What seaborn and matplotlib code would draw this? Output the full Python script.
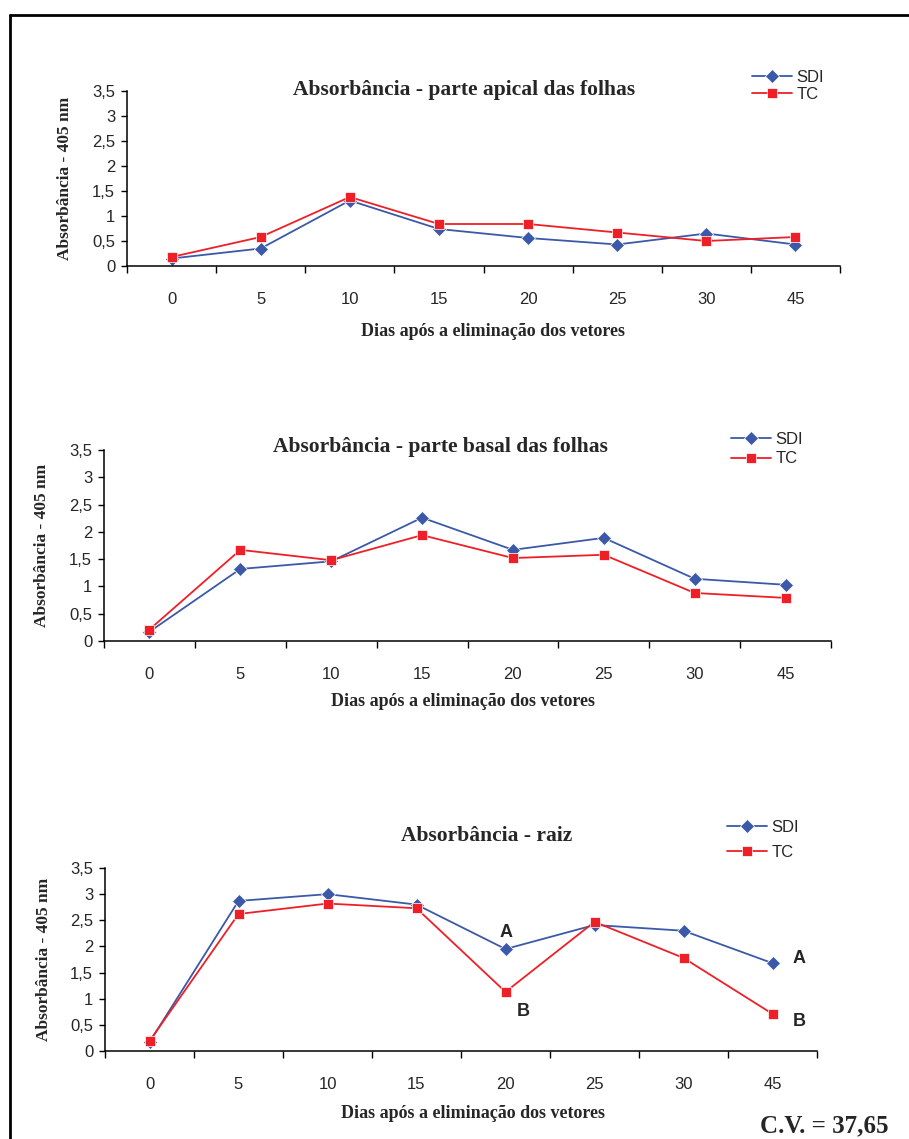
import numpy as np
import pandas as pd
import seaborn as sns
import matplotlib.pyplot as plt
from matplotlib.lines import Line2D

# dados
dias = ['0', '5', '10', '15', '20', '25', '30', '45']
apical_sdi = [0.15, 0.35, 1.31, 0.74, 0.56, 0.43, 0.65, 0.43]
apical_tc = [0.18, 0.58, 1.38, 0.84, 0.84, 0.67, 0.50, 0.58]
basal_sdi = [0.17, 1.32, 1.46, 2.26, 1.67, 1.89, 1.14, 1.03]
basal_tc = [0.21, 1.67, 1.48, 1.94, 1.52, 1.58, 0.88, 0.79]
raiz_sdi = [0.17, 2.87, 3.00, 2.80, 1.95, 2.41, 2.30, 1.68]
raiz_tc = [0.19, 2.62, 2.82, 2.73, 1.13, 2.47, 1.78, 0.71]
yticks = [0, 0.5, 1, 1.5, 2, 2.5, 3, 3.5]
ytick_labels = ['0', '0,5', '1', '1,5', '2', '2,5', '3', '3,5']
titulos = ['Absorbância - parte apical das folhas',
           'Absorbância - parte basal das folhas',
           'Absorbância - raiz']
series = ['SDI', 'TC']
cores = {'SDI': '#3b59a8', 'TC': '#ee1f26'}
marcadores = {'SDI': 'D', 'TC': 's'}

W, H = 909, 1139
def fx(x): return x / W
def fy(y): return 1 - y / H

sns.set_theme(style='white')
plt.rcParams['font.family'] = ['Liberation Sans', 'DejaVu Sans']

fig = plt.figure(figsize=(W / 100, H / 100), dpi=100)
fig.patch.set_facecolor('white')

# caixa dos eixos em pixels (esq, topo, dir, base), posicoes de titulo, legenda etc.
layout = [
    dict(box=(127, 91, 840, 266), title=(464, 90), leg=(752, 86, 0.12), xl=(493, 331), yl=65),
    dict(box=(104, 450, 831, 641), title=(440, 447), leg=(731, 449, 0.28), xl=(463, 701), yl=42),
    dict(box=(105, 868, 817, 1051), title=(487, 836), leg=(727, 840, 0.62), xl=(473, 1113), yl=44),
]
dados = [(apical_sdi, apical_tc), (basal_sdi, basal_tc), (raiz_sdi, raiz_tc)]

eixos = []
for i, (cfg, (sdi, tc)) in enumerate(zip(layout, dados)):
    l, t, r, b = cfg['box']
    ax = fig.add_axes([fx(l), fy(b), (r - l) / W, (b - t) / H])
    df = pd.DataFrame({
        'pos': list(range(len(dias))) * 2,
        'valor': sdi + tc,
        'serie': ['SDI'] * len(dias) + ['TC'] * len(dias),
    })
    sns.lineplot(data=df, x='pos', y='valor', hue='serie', style='serie',
                 hue_order=series, palette=cores, markers=marcadores, dashes=False,
                 markersize=7, markeredgewidth=0.5, linewidth=1.3, ax=ax)
    ax.set_xlim(-0.5, len(dias) - 0.5)
    ax.set_ylim(0, 3.5)
    ax.set_facecolor('white')
    for s in ['top', 'right']:
        ax.spines[s].set_visible(False)
    for s in ['left', 'bottom']:
        ax.spines[s].set_color('black')
        ax.spines[s].set_linewidth(1.1)

    ax.set_yticks(yticks)
    ax.set_yticklabels(ytick_labels, fontsize=12)
    ax.tick_params(axis='y', direction='out', length=4.5, width=1, color='black',
                   left=True, pad=4)
    # marcas do eixo x entre as categorias, rotulos no centro
    ax.set_xticks(np.arange(-0.5, len(dias), 1.0))
    ax.set_xticklabels([])
    ax.set_xticks(np.arange(len(dias)), minor=True)
    ax.set_xticklabels(dias, minor=True, fontsize=12)
    ax.tick_params(axis='x', which='major', direction='out', length=5, width=1,
                   color='black', bottom=True)
    ax.tick_params(axis='x', which='minor', length=0, pad=19)

    ax.set_xlabel('Dias após a eliminação dos vetores', fontsize=13,
                  fontweight='bold', family='Liberation Serif')
    ax.xaxis.set_label_coords(fx(cfg['xl'][0]), fy(cfg['xl'][1]), transform=fig.transFigure)
    ax.xaxis.label.set_va('center')
    ax.set_ylabel('Absorbância - 405 nm', fontsize=12.5, fontweight='bold',
                  family='Liberation Serif')
    ax.yaxis.set_label_coords(fx(cfg['yl']), fy((t + b) / 2), transform=fig.transFigure)
    ax.yaxis.label.set_va('center')

    tx, ty = cfg['title']
    fig.text(fx(tx), fy(ty), titulos[i], ha='center', va='center', fontsize=15.5,
             fontweight='bold', family='Liberation Serif')

    lx, ly, sp = cfg['leg']
    sns.move_legend(ax, 'center left', bbox_to_anchor=(fx(lx), fy(ly)),
                    bbox_transform=fig.transFigure, title=None, frameon=False,
                    fontsize=12, handlelength=2.4, handletextpad=0.25,
                    labelspacing=sp, borderpad=0, borderaxespad=0)
    eixos.append(ax)

# letras de significancia na raiz
ax3 = eixos[2]
letras = [(4, raiz_sdi[4], 'A', (1, 17)), (4, raiz_tc[4], 'B', (18, -20)),
          (7, raiz_sdi[7], 'A', (27, 5)), (7, raiz_tc[7], 'B', (27, -8))]
for xi, yi, txt, off in letras:
    ax3.annotate(txt, (xi, yi), xytext=off, textcoords='offset pixels',
                 ha='center', va='center', fontsize=13, fontweight='bold')

fig.text(fx(888), fy(1132), 'C.V. = 37,65', ha='right', va='baseline', fontsize=18,
         fontweight='bold', family='Liberation Serif')

# moldura (topo e esquerda)
fig.add_artist(Line2D([fx(10), 1], [fy(15), fy(15)], transform=fig.transFigure,
                      color='black', lw=2))
fig.add_artist(Line2D([fx(10), fx(10)], [fy(15), 0], transform=fig.transFigure,
                      color='black', lw=2))

fig.savefig('out.png', dpi=100)
